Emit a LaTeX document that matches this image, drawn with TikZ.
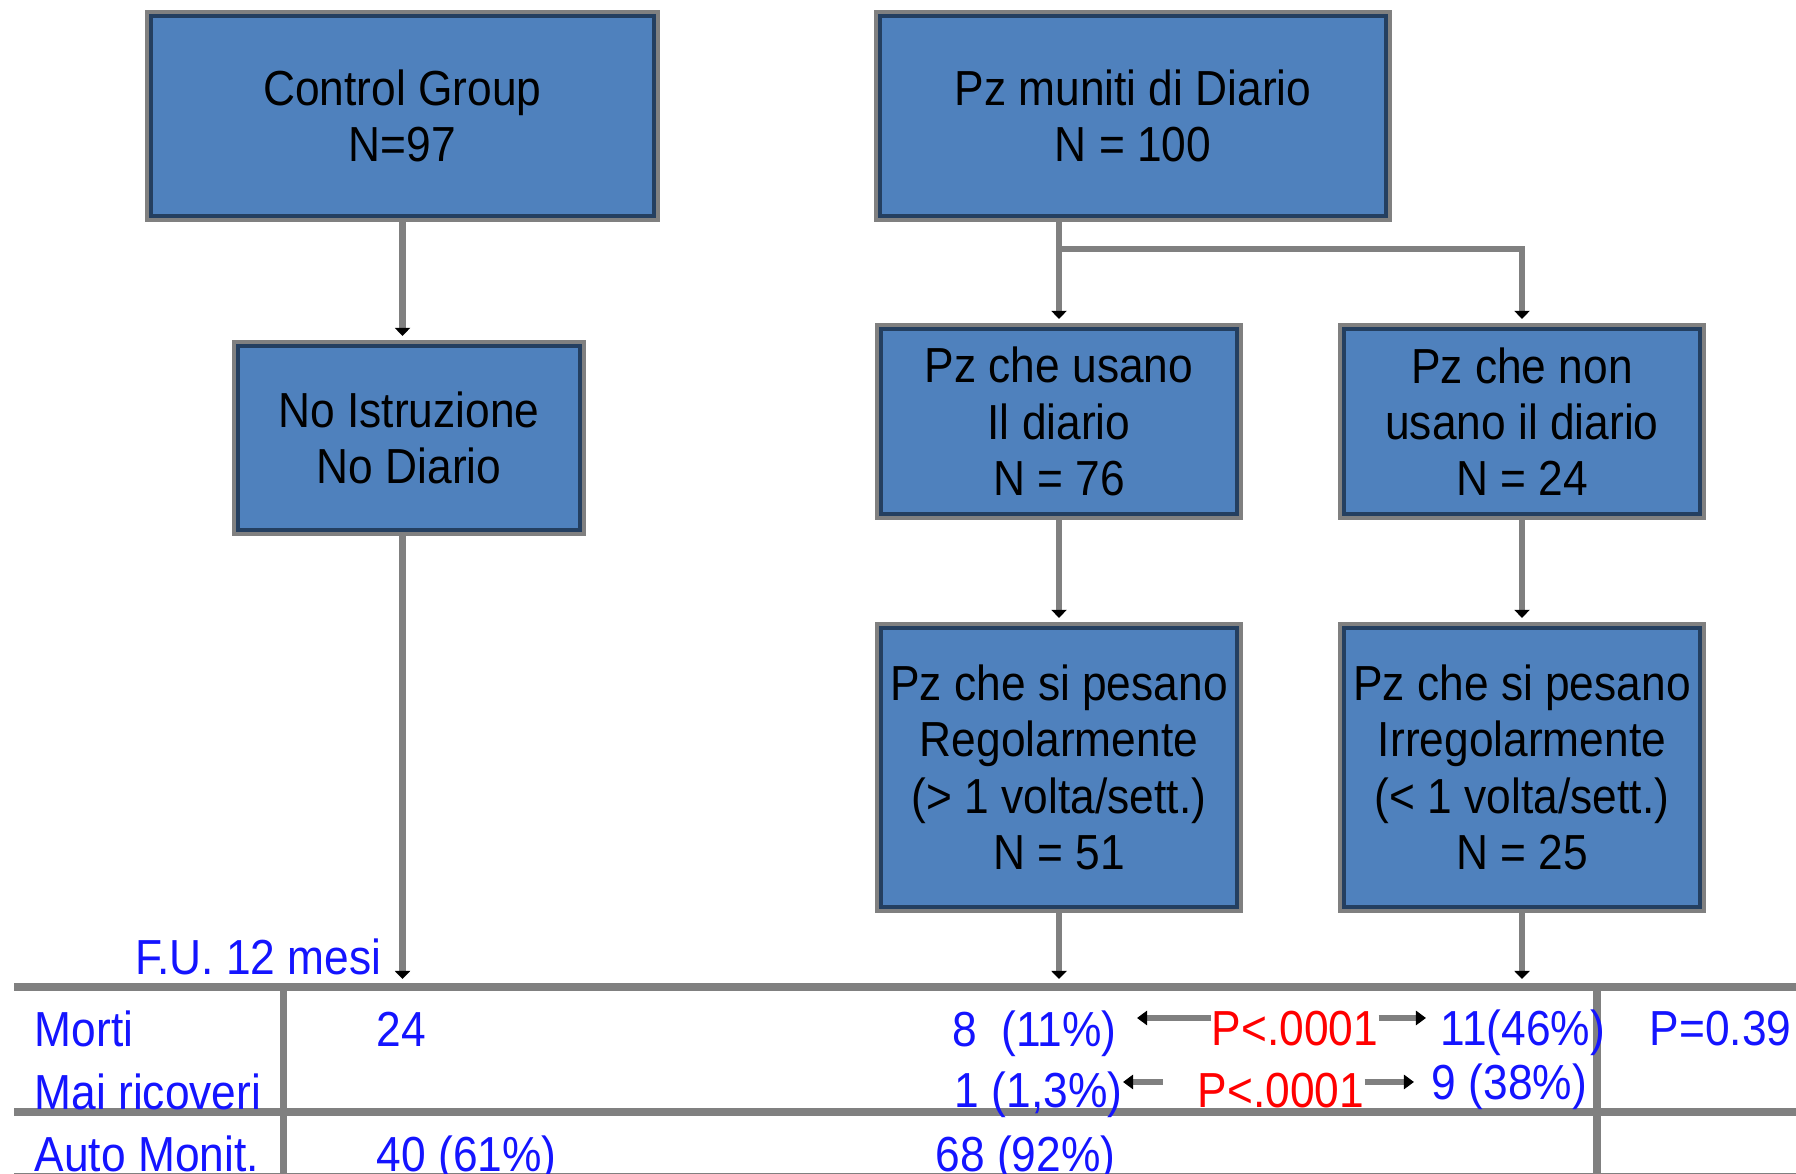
\documentclass[tikz,border=0pt]{standalone}
\usepackage{fontspec}
\setmainfont{Liberation Sans}[FakeStretch=0.9]
\usetikzlibrary{arrows.meta}
\definecolor{boxblue}{RGB}{79,129,189}
\definecolor{boxedge}{RGB}{36,63,96}
\definecolor{linegray}{RGB}{128,128,128}
\definecolor{txtblue}{RGB}{20,20,255}

\tikzset{
  grp/.style={rectangle, fill=boxblue, draw=boxedge, line width=1pt,
    preaction={draw=linegray, line width=3.3pt},
    align=center, inner sep=0pt, outer sep=0.06cm},
  flow/.style={draw=linegray, line width=1.9pt, shorten >=0.04cm,
    -{Triangle[color=black, width=0.15cm, length=0.08cm]}},
  tarrow/.style={draw=linegray, line width=1.6pt,
    -{Triangle[color=black, width=0.14cm, length=0.1cm]}},
  lab/.style={text=txtblue, inner sep=0pt},
  pval/.style={text=red, inner sep=0pt},
  rule/.style={draw=linegray, line width=2.2pt}
}

\begin{document}
\begin{tikzpicture}[font=\fontsize{14}{16}\selectfont]
  \begin{scope}[x=0.01cm, y=-0.01cm]
    \useasboundingbox (0,0) rectangle (1796,1174);
    % table
    \draw[rule] (14,987) -- (1796,987);
    \draw[rule] (14,1112) -- (1796,1112);
    \draw[rule] (14,1177) -- (1796,1177);
    \draw[rule, line width=1.8pt] (283.5,987) -- (283.5,1180);
    \draw[rule] (1597,987) -- (1597,1180);
    \coordinate (tl) at (0,983);
    \coordinate (br) at (0,249);
    \coordinate (ya) at (0,1018);
    \coordinate (yb) at (0,1082);

    \node[grp, minimum width=5.03cm, minimum height=2cm] (cg) at (402.5,116) {Control Group\\N=97};
    \node[grp, minimum width=5.06cm, minimum height=2cm] (pz) at (1133,116) {Pz muniti di Diario\\N = 100};
    \node[grp, minimum width=3.42cm, minimum height=1.84cm] (noi) at (409,438) {No Istruzione\\No Diario};
    \node[grp, minimum width=3.56cm, minimum height=1.85cm] (usa) at (1059,421.5) {Pz che usano\\Il diario\\N = 76};
    \node[grp, minimum width=3.56cm, minimum height=1.85cm] (non) at (1522,421.5) {Pz che non\\usano il diario\\N = 24};
    \node[grp, minimum width=3.56cm, minimum height=2.79cm] (reg) at (1059,767.5) {Pz che si pesano\\Regolarmente\\(> 1 volta/sett.)\\N = 51};
    \node[grp, minimum width=3.56cm, minimum height=2.79cm] (irr) at (1522,767.5) {Pz che si pesano\\Irregolarmente\\(< 1 volta/sett.)\\N = 25};

    \draw[flow] (cg.south) -- (cg.south |- noi.north);
    \draw[flow] (cg.south |- noi.south) -- (cg.south |- tl);
    \draw[flow] (usa.north |- pz.south) -- (usa.north);
    \draw[flow] (usa.north |- br) -| (non.north);
    \draw[flow] (usa.south) -- (reg.north);
    \draw[flow] (non.south) -- (irr.north);
    \draw[flow] (reg.south) -- (reg.south |- tl);
    \draw[flow] (irr.south) -- (irr.south |- tl);

    \node[lab, anchor=base east] (fu) at (382,975) {F.U. 12 mesi};
    \node[lab, anchor=base west] (morti) at (34,1047) {Morti};
    \node[lab, anchor=base west] (mai) at (34,1110) {Mai ricoveri};
    \node[lab, anchor=base west] (auto) at (34,1172) {Auto Monit.};
    \node[lab, anchor=base west] (c24) at (376,1047) {24};
    \node[lab, anchor=base west] (c40) at (376,1172) {40 (61\%)};
    \node[lab, anchor=base east] (m8) at (1117,1047) {8\ \ (11\%)};
    \node[lab, anchor=base east] (m1) at (1123,1108) {1 (1,3\%)};
    \node[lab, anchor=base east] (m68) at (1116,1172) {68 (92\%)};
    \node[pval, anchor=base west] (pa) at (1211,1046) {P<.0001};
    \node[pval, anchor=base west] (pb) at (1197,1108) {P<.0001};
    \node[lab, anchor=base west] (n11) at (1440,1046) {11(46\%)};
    \node[lab, anchor=base west] (n9) at (1431,1100) {9 (38\%)};
    \node[lab, anchor=base west] (p39) at (1649,1046) {P=0.39};

    \draw[tarrow, shorten >=0.2cm] (pa.west |- ya) -- (m8.east |- ya);
    \draw[tarrow, shorten >=0.14cm] (pa.east |- ya) -- (n11.west |- ya);
    \draw[tarrow, shorten <=0.34cm] (pb.west |- yb) -- (m1.east |- yb);
    \draw[tarrow, shorten >=0.17cm] (pb.east |- yb) -- (n9.west |- yb);
  \end{scope}
\end{tikzpicture}
\end{document}
